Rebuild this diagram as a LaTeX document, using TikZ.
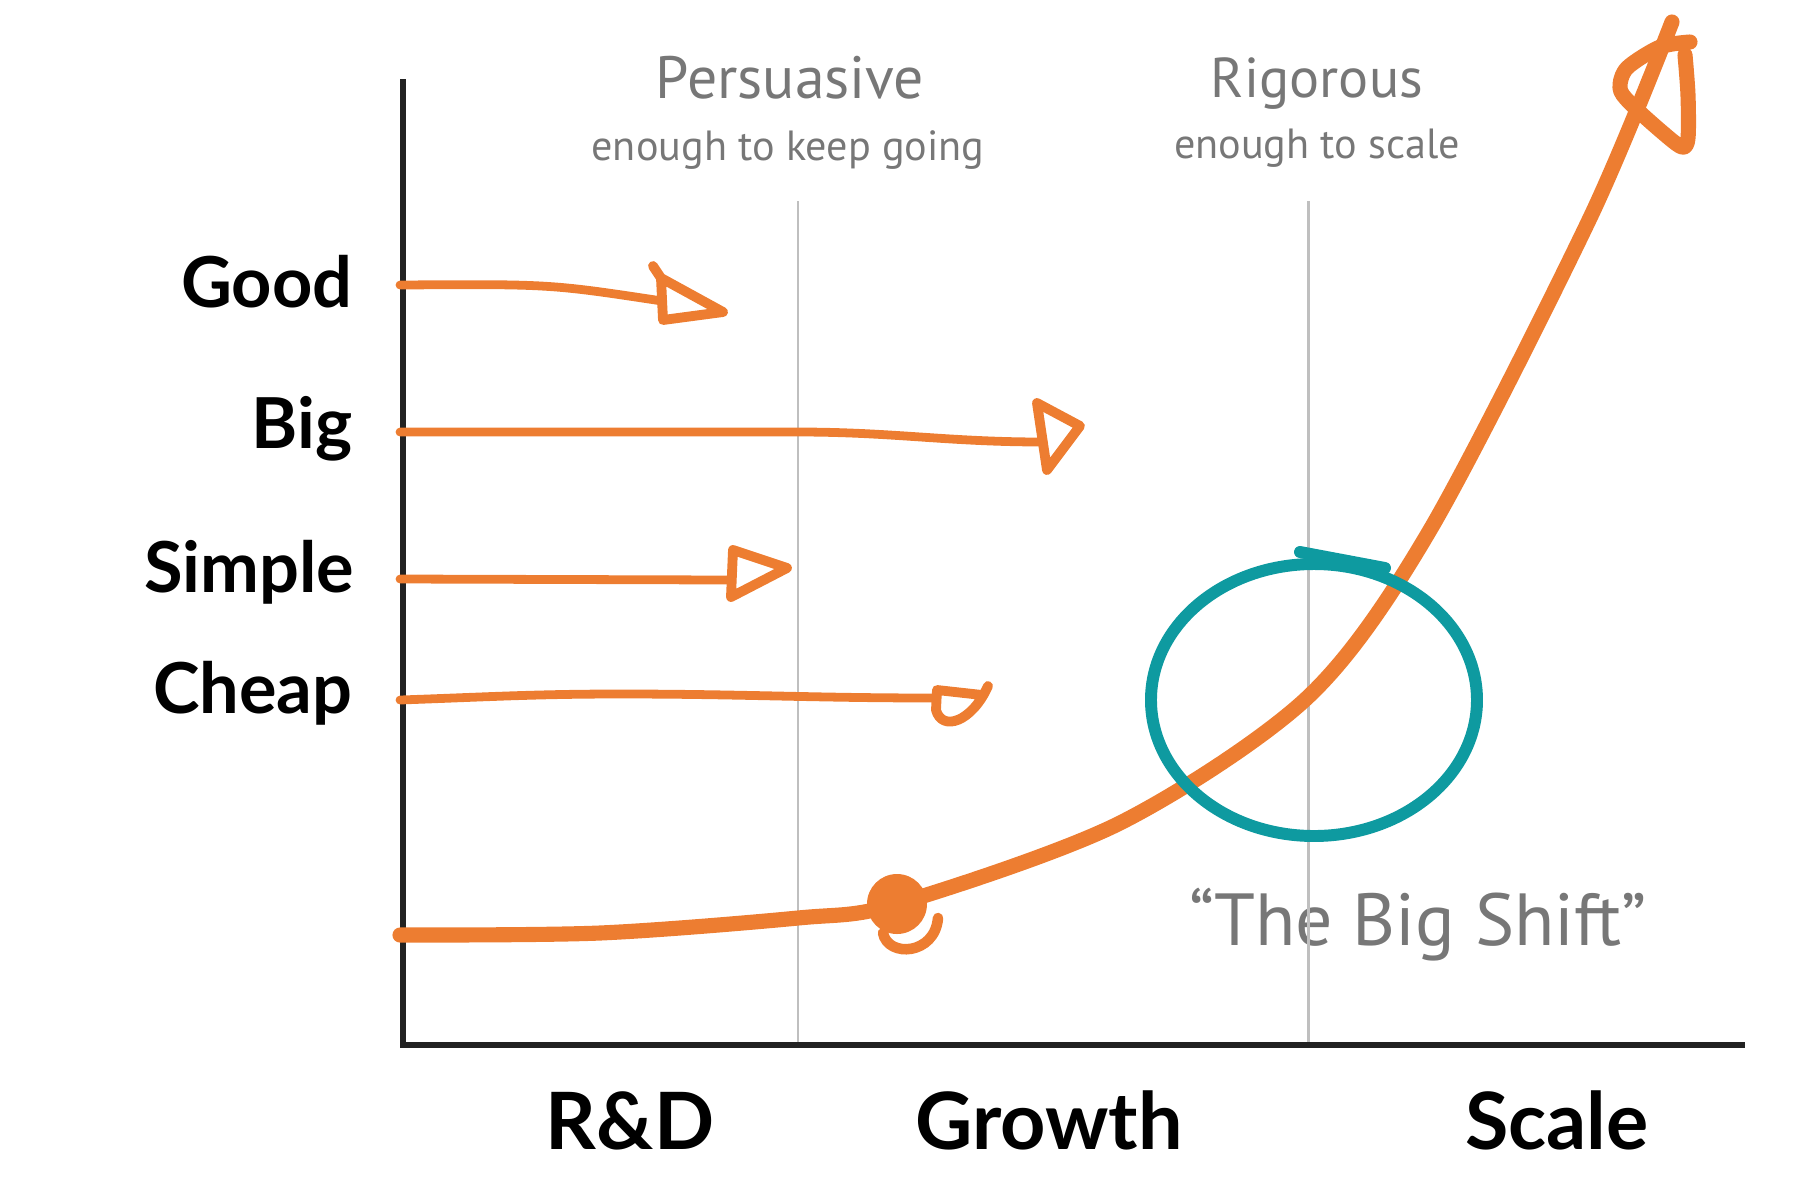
\documentclass[tikz,border=0pt]{standalone}
\usepackage{fontspec}
\setmainfont{Lato}
\newfontfamily\hand{PT Sans}
\definecolor{orng}{HTML}{ED7D31}
\definecolor{teal}{HTML}{0E9AA0}
\definecolor{ink}{HTML}{222222}
\definecolor{pencil}{HTML}{777777}
\tikzset{
  lab/.style={font=\bfseries\fontsize{20}{24}\selectfont, inner sep=0pt, anchor=base east},
  stage/.style={font=\bfseries\fontsize{22.5}{27}\selectfont, inner sep=0pt, anchor=base},
  note/.style={font=\hand, text=pencil, inner sep=0pt, anchor=base},
  shaft/.style={draw=orng, line width=2.5pt, line cap=round, line join=round},
  head/.style={draw=orng, line width=2.8pt, line cap=round, line join=round},
  trend/.style={draw=orng, line width=4.3pt, line cap=round, line join=round},
}
\begin{document}
\begin{tikzpicture}
  \useasboundingbox (0,0) rectangle (18,-12);
  % labels
  \node[lab] (good) at (3.53,-3.07) {Good};
  \node[lab] (big) at (3.53,-4.48) {Big};
  \node[lab] (simple) at (3.55,-5.92) {Simple};
  \node[lab] (cheap) at (3.53,-7.13) {Cheap};
  \node[stage] (rd) at (6.30,-11.49) {R\&D};
  \node[stage] (growth) at (10.49,-11.49) {Growth};
  \node[stage] (scale) at (15.57,-11.49) {Scale};
  \node[note,font=\hand\fontsize{17}{20}\selectfont] (pers) at (7.90,-0.98) {Persuasive};
  \node[note,font=\hand\fontsize{12}{14}\selectfont] (pers2) at (7.88,-1.60) {enough to keep going};
  \node[note,font=\hand\fontsize{16}{19}\selectfont] (rig) at (13.17,-0.97) {Rigorous};
  \node[note,font=\hand\fontsize{12}{14}\selectfont] (rig2) at (13.17,-1.58) {enough to scale};
  \node[note,font=\hand\fontsize{21}{25}\selectfont] (shift) at (14.18,-9.45) {“The Big Shift”};
  % axes
  \coordinate (ytop) at (4.03,-0.79);
  \coordinate (xend) at (17.45,-10.45);
  \coordinate (p1) at (7.98,-2.01);
  \coordinate (p2) at (13.08,-2.01);
  \draw[black!25, line width=0.85pt] (p1) -- (p1 |- xend);
  \draw[black!25, line width=0.85pt] (p2) -- (p2 |- xend);
  \draw[ink, line width=1.7pt] (ytop) |- (xend);
  % arrows
  \coordinate (gd0) at (4.00,-2.85);
  \coordinate (gd1) at (6.62,-3.01);
  \coordinate (bg0) at (4.00,-4.32);
  \coordinate (bg1) at (10.43,-4.42);
  \coordinate (sm0) at (4.00,-5.79);
  \coordinate (sm1) at (7.31,-5.80);
  \coordinate (ch0) at (4.00,-7.00);
  \coordinate (ch1) at (9.35,-6.98);
  \draw[shaft] (gd0) .. controls (5.5,-2.84) .. (gd1);
  \draw[head] (6.53,-2.66) -- (6.61,-2.78) -- (7.23,-3.12) -- (6.63,-3.20) -- (6.61,-2.78);
  \draw[shaft] (bg0) -- (7.98,-4.32) to[out=0,in=180] (bg1);
  \draw[head] (10.47,-4.70) -- (10.37,-4.03) -- (10.80,-4.26) -- cycle;
  \draw[shaft] (sm0) -- (sm1);
  \draw[head] (7.33,-5.50) -- (7.31,-5.97) -- (7.87,-5.68) -- cycle;
  \draw[shaft] (ch0) to[out=2,in=180] (6.2,-6.94) to[out=0,in=180] (ch1);
  \draw[head] (9.88,-6.86) .. controls (9.72,-7.22) and (9.42,-7.32) .. (9.36,-7.10) -- (9.37,-6.90) -- (9.82,-6.95);
  % curve
  \coordinate (t0) at (4.00,-9.35);
  \coordinate (t1) at (16.72,-0.22);
  \coordinate (dot) at (8.97,-9.04);
  \draw[trend] plot[smooth] coordinates {(t0) (6.00,-9.33) (7.98,-9.18) (dot) (11.20,-8.23)
    (13.08,-6.97) (14.30,-5.30) (15.90,-2.18) (t1)};
  \draw[trend] plot[smooth] coordinates {(16.90,-0.42) (16.60,-0.47) (16.27,-0.68) (16.20,-0.88)
    (16.30,-1.03) (16.62,-1.32) (16.82,-1.47) (16.88,-1.38) (16.88,-0.95) (16.85,-0.55)};
  \fill[orng] (dot) circle (0.30);
  \draw[orng, line width=3pt, line cap=round] (9.38,-9.18) .. controls (9.35,-9.55) and (8.88,-9.58) .. (8.83,-9.33);
  % the shift
  \draw[teal, line width=3.4pt, line cap=round] (13.00,-5.52) -- (13.85,-5.68);
  \draw[teal, line width=3.4pt] (13.14,-7.00) ellipse (1.63 and 1.36);
\end{tikzpicture}
\end{document}
